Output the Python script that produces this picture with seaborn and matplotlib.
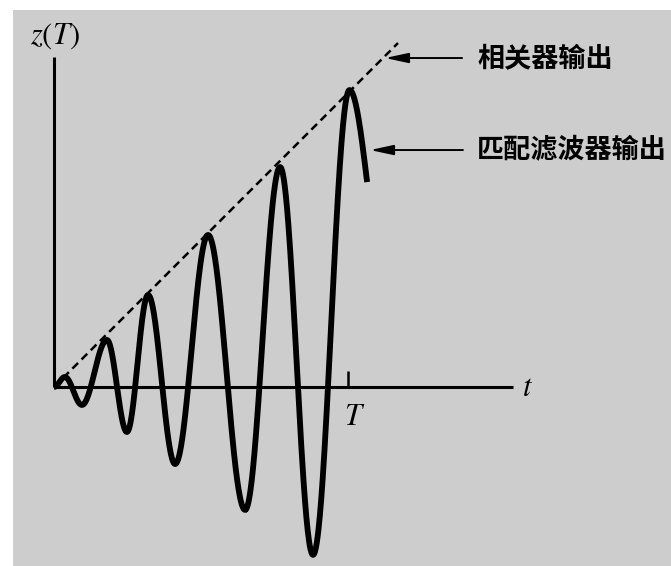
import numpy as np
import pandas as pd
import matplotlib
matplotlib.use("Agg")
import matplotlib.pyplot as plt
from matplotlib.patches import Rectangle
import seaborn as sns

sns.set_theme(style="white")
plt.rcParams["font.family"] = ["Noto Sans CJK SC", "DejaVu Sans"]
plt.rcParams["mathtext.fontset"] = "stix"

# Matched-filter output: successive turning points (time in units of T)
mf_t = [0.0, 0.037, 0.095, 0.180, 0.248, 0.320, 0.412, 0.524, 0.650, 0.769, 0.881, 1.005, 1.065]
mf_z = [0.0, 0.034, -0.061, 0.160, -0.153, 0.313, -0.262, 0.517, -0.418, 0.748, -0.571, 1.010, 0.697]

# Correlator output: linear ramp
corr_t = [0.0, 1.17]
corr_z = [0.0, 1.17]

label_corr = "相关器输出"
label_mf = "匹配滤波器输出"
label_y = r"$z(T)$"
label_x = r"$t$"
label_T = r"$T$"

# Smooth oscillation through the turning points (cosine-shaped half swings)
curve_t, curve_z = [], []
n_seg = len(mf_t) - 1
for i in range(n_seg):
    s = np.linspace(0.0, 1.0, 80)
    if i == n_seg - 1:
        w = 1.0 - np.cos(0.5 * np.pi * s)
    else:
        w = 0.5 * (1.0 - np.cos(np.pi * s))
    curve_t.extend(mf_t[i] + (mf_t[i + 1] - mf_t[i]) * s)
    curve_z.extend(mf_z[i] + (mf_z[i + 1] - mf_z[i]) * w)
mf_df = pd.DataFrame({"t": curve_t, "z": curve_z})
corr_df = pd.DataFrame({"t": corr_t, "z": corr_z})

fig = plt.figure(figsize=(6.71, 5.66), dpi=100, facecolor="white")
fig.patches.append(Rectangle((13 / 671, 0), 1 - 13 / 671, 556 / 566,
                             transform=fig.transFigure, facecolor="#cdcdcd",
                             edgecolor="none", zorder=-1))
ax = fig.add_axes([0, 0, 1, 1])
ax.set_facecolor("none")
ax.set_axis_off()
ax.set_xlim(-54 / 294, 617 / 294)
ax.set_ylim(-179 / 294, 387 / 294)

# Hand-drawn style axes
ax.plot([0, 1.561], [0, 0], color="black", lw=2.2, solid_capstyle="butt")
ax.plot([0, 0], [0, 1.122], color="black", lw=2.2, solid_capstyle="butt")
ax.plot([1.0, 1.0], [0, 0.054], color="black", lw=1.8, solid_capstyle="butt")

sns.lineplot(data=corr_df, x="t", y="z", ax=ax, color="black", lw=1.8,
             legend=False, sort=False, estimator=None)
ax.lines[-1].set_dashes((3.2, 2.0))
sns.lineplot(data=mf_df, x="t", y="z", ax=ax, color="black", lw=4.2,
             legend=False, sort=False, estimator=None)
ax.lines[-1].set_solid_capstyle("butt")

ax.text(0.003, 1.197, label_y, fontsize=22, ha="center", va="center", color="black")
ax.text(1.609, 0.0, label_x, fontsize=22, ha="center", va="center", color="black")
ax.text(1.024, -0.102, label_T, fontsize=22, ha="center", va="center", color="black")

arrow_kw = dict(arrowstyle="-|>,head_length=14,head_width=3", mutation_scale=1,
                color="black", lw=1.4, shrinkA=0, shrinkB=0)
ax.annotate("", xy=(1.126, 1.119), xytext=(1.388, 1.119), arrowprops=arrow_kw)
ax.annotate("", xy=(1.075, 0.806), xytext=(1.391, 0.806), arrowprops=arrow_kw)
ax.text(1.439, 1.119, label_corr, fontsize=19.5, fontweight="bold",
        ha="left", va="center", color="black")
ax.text(1.439, 0.806, label_mf, fontsize=19.5, fontweight="bold",
        ha="left", va="center", color="black")

fig.savefig("out.png", dpi=100, facecolor="white")
